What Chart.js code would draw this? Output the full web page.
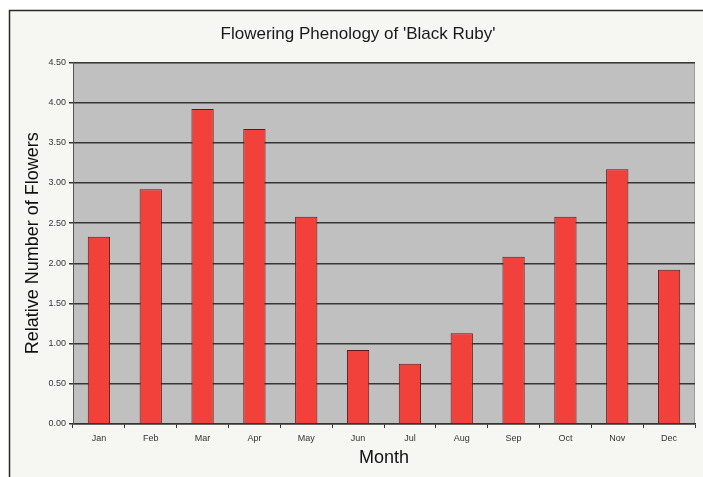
<!DOCTYPE html>
<html>
<head>
<meta charset="utf-8">
<script src="https://cdn.jsdelivr.net/npm/chart.js@4"></script>
<style>
  html, body { margin: 0; padding: 0; background: #ffffff; }
  #wrap { width: 703px; height: 477px; }
</style>
</head>
<body>
<div id="wrap"><canvas id="c" width="703" height="477"></canvas></div>
<script>
const months = ['Jan','Feb','Mar','Apr','May','Jun','Jul','Aug','Sep','Oct','Nov','Dec'];
const flowers = [2.33, 2.92, 3.92, 3.67, 2.58, 0.92, 0.75, 1.13, 2.08, 2.58, 3.17, 1.92];
const yTicks = [0, 0.5, 1, 1.5, 2, 2.5, 3, 3.5, 4, 4.5];

const FONT = '"Liberation Sans", Arial, sans-serif';

const framePlugin = {
  id: 'frame',
  beforeDraw(chart) {
    const ctx = chart.ctx;
    ctx.save();
    ctx.fillStyle = '#ffffff';
    ctx.fillRect(0, 0, chart.width, chart.height);
    ctx.fillStyle = '#f6f6f3';
    ctx.fillRect(9, 10, chart.width - 9, chart.height - 10);
    ctx.strokeStyle = '#2a2a2a';
    ctx.lineWidth = 1.5;
    ctx.beginPath();
    ctx.moveTo(9.5, chart.height);
    ctx.lineTo(9.5, 10.5);
    ctx.lineTo(chart.width, 10.5);
    ctx.stroke();
    const a = chart.chartArea;
    ctx.fillStyle = '#c0c0c0';
    ctx.fillRect(a.left, a.top, a.right - a.left, a.bottom - a.top);
    ctx.strokeStyle = '#9c9c9c';
    ctx.lineWidth = 1;
    ctx.strokeRect(a.left + 0.5, a.top + 0.5, a.right - a.left - 1, a.bottom - a.top - 1);
    ctx.restore();
  }
};

new Chart(document.getElementById('c'), {
  type: 'bar',
  data: {
    labels: months,
    datasets: [{
      data: flowers,
      backgroundColor: '#f2403b',
      borderColor: '#5a1c1c',
      borderWidth: 1,
      barPercentage: 0.43,
      categoryPercentage: 1.0
    }]
  },
  options: {
    responsive: false,
    animation: false,
    devicePixelRatio: 1,
    layout: { padding: { left: 21, right: 8, top: 0, bottom: 0 } },
    plugins: {
      legend: { display: false },
      tooltip: { enabled: false },
      title: {
        display: true,
        text: "Flowering Phenology of 'Black Ruby'",
        color: '#1a1a1a',
        font: { family: FONT, size: 17, weight: 'normal' },
        padding: { top: 24, bottom: 18 }
      }
    },
    scales: {
      x: {
        grid: {
          display: true,
          drawOnChartArea: false,
          drawTicks: true,
          tickLength: 4,
          color: '#333333',
          offset: true
        },
        border: { display: true, color: '#333333', width: 1.5 },
        ticks: {
          color: '#333333',
          font: { family: FONT, size: 9 },
          padding: 5,
          maxRotation: 0
        },
        title: {
          display: true,
          text: 'Month',
          color: '#111111',
          font: { family: FONT, size: 18 },
          padding: { top: 0, bottom: 8 }
        },
        afterFit(scale) { scale.height = 53; }
      },
      y: {
        min: 0,
        max: 4.5,
        afterBuildTicks(scale) { scale.ticks = yTicks.map(v => ({ value: v })); },
        grid: {
          color: '#363636',
          lineWidth: 1.5,
          drawTicks: true,
          tickLength: 4
        },
        border: { display: true, color: '#555555', width: 1 },
        ticks: {
          color: '#333333',
          font: { family: FONT, size: 9 },
          padding: 3,
          callback: (v) => Number(v).toFixed(2)
        },
        title: {
          display: true,
          text: 'Relative Number of Flowers',
          color: '#111111',
          font: { family: FONT, size: 18 },
          padding: { top: 1, bottom: 0 }
        },
        afterFit(scale) { scale.width = 52; }
      }
    }
  },
  plugins: [framePlugin]
});
</script>
</body>
</html>
